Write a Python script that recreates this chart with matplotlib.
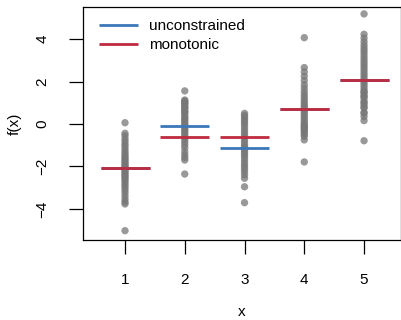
import matplotlib
matplotlib.use("Agg")
import matplotlib.pyplot as plt
import numpy as np

# ---- data ----
groups = [1, 2, 3, 4, 5]
y_g1 = [0.06, -0.44, -0.55, -0.70, -0.82, -0.95, -1.05, -1.18, -1.30, -1.40, -1.50,
        -1.58, -1.66, -1.75, -1.82, -1.90, -1.97, -2.04, -2.10, -2.16, -2.22, -2.30,
        -2.38, -2.45, -2.53, -2.60, -2.70, -2.80, -2.90, -3.00, -3.12, -3.25, -3.40,
        -3.55, -3.68, -3.77, -5.03]
y_g2 = [1.56, 1.13, 1.08, 1.02, 0.97, 0.92, 0.82, 0.77, 0.72, 0.62, 0.57, 0.52, 0.42,
        0.33, 0.25, 0.17, 0.08, 0.00, -0.08, -0.16, -0.24, -0.33, -0.42, -0.52, -0.62,
        -0.72, -0.85, -0.98, -1.12, -1.30, -1.45, -1.58, -1.70, -2.36]
y_g3 = [0.50, 0.40, 0.30, 0.20, 0.10, 0.00, -0.12, -0.25, -0.38, -0.50, -0.62, -0.75,
        -0.88, -1.00, -1.10, -1.20, -1.30, -1.40, -1.50, -1.62, -1.75, -1.88, -2.00,
        -2.12, -2.25, -2.40, -2.56, -2.96, -3.71]
y_g4 = [4.07, 2.66, 2.45, 2.25, 2.05, 1.85, 1.68, 1.52, 1.38, 1.25, 1.12, 1.00, 0.90,
        0.80, 0.70, 0.60, 0.50, 0.40, 0.30, 0.20, 0.10, 0.00, -0.05, -0.12, -0.18,
        -0.25, -0.32, -0.40, -0.50, -0.58, -0.75, -1.79]
y_g5 = [5.19, 4.23, 4.05, 3.88, 3.72, 3.58, 3.45, 3.32, 3.18, 3.05, 2.92, 2.80, 2.68,
        2.55, 2.42, 2.30, 2.18, 2.06, 1.95, 1.84, 1.72, 1.60, 1.50, 1.48, 1.35, 1.30,
        1.22, 1.08, 1.00, 0.92, 0.80, 0.75, 0.55, 0.50, 0.35, 0.16, -0.79]
unconstrained = [-2.09, -0.08, -1.12, 0.71, 2.06]
monotonic = [-2.08, -0.63, -0.63, 0.72, 2.06]
x_ticks = [1, 2, 3, 4, 5]
y_ticks = [-4, -2, 0, 2, 4]

plt.rcParams['font.family'] = ['Liberation Sans', 'DejaVu Sans']
plt.rcParams['axes.unicode_minus'] = True

W, H = 401, 320
fig = plt.figure(figsize=(W / 100, H / 100), dpi=100)
L, R, T, B = 82.7, 400.5, 6.7, 240.0
ax = fig.add_axes([L / W, 1 - B / H, (R - L) / W, (B - T) / H])

pt_color = '#777777'
for g, ys in zip(groups, [y_g1, y_g2, y_g3, y_g4, y_g5]):
    ax.scatter([g] * len(ys), ys, s=28, color=pt_color, alpha=0.75,
               edgecolors='none', zorder=2)

blue = '#3A78B8'
red = '#BE2A3E'
half = 0.41
ax.hlines(unconstrained, np.array(groups) - half, np.array(groups) + half,
          colors=blue, linewidth=2.0, zorder=3, label='unconstrained')
ax.hlines(monotonic, np.array(groups) - half, np.array(groups) + half,
          colors=red, linewidth=2.0, zorder=4, label='monotonic')

ax.set_xlim(0.292, 5.61)
ax.set_ylim(-5.47, 5.53)
ax.set_xticks(x_ticks)
ax.set_yticks(y_ticks)
ax.set_xticklabels([str(v) for v in x_ticks])
ax.set_yticklabels([f"{v}".replace('-', '\u2212') for v in y_ticks], rotation=90, va='center')

ax.tick_params(direction='out', length=10, width=0.9, labelsize=11, pad=14, colors='black')
for s in ax.spines.values():
    s.set_linewidth(0.9)
    s.set_color('black')

ax.set_xlabel('x', fontsize=11, va='center')
ax.xaxis.set_label_coords(0.5, (B - 312) / (B - T))
ax.set_ylabel('f(x)', fontsize=11, va='center')
ax.yaxis.set_label_coords((15 - L) / (R - L), 0.5)

leg = ax.legend(loc='upper left', bbox_to_anchor=((99 - L) / (R - L), (B - 19) / (B - T)),
                frameon=False, fontsize=11, handlelength=2.55, handletextpad=0.75,
                labelspacing=0.35, borderpad=0, borderaxespad=0)

fig.savefig('out.png', dpi=100)
